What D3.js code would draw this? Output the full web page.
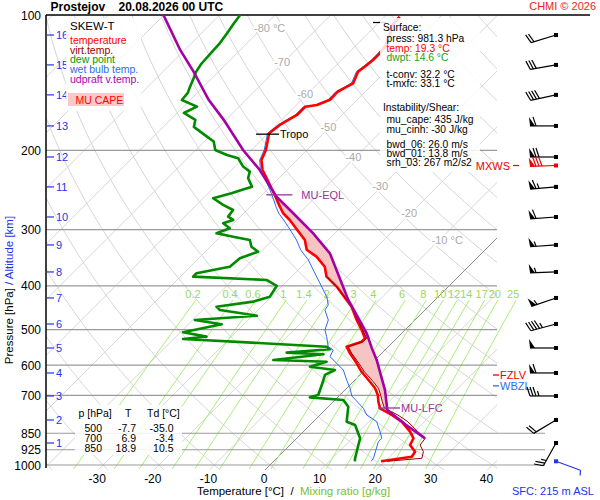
<!DOCTYPE html>
<html>
<head>
<meta charset="utf-8">
<script src="https://cdnjs.cloudflare.com/ajax/libs/d3/7.8.5/d3.min.js"></script>
<style>
  body { margin: 0; background: #fff; }
  svg { font-family: "Liberation Sans", Arial, sans-serif; }
</style>
</head>
<body>
<div id="chart"></div>
<script>
var pressureTicks = [100, 200, 300, 400, 500, 600, 700, 850, 925, 1000];
var tempTicks = [-30, -20, -10, 0, 10, 20, 30, 40];

var altitudeKm = [1, 2, 3, 4, 5, 6, 7, 8, 9, 10, 11, 12, 13, 14, 15, 16];
var altitudeP = [893.5, 794.3, 702.4, 624.4, 549.5, 486.0, 425.4, 372.4, 324.3, 281.1, 241.0, 206.8, 176.4, 150.5, 129.1, 110.8];

var isoLabelT = [-80, -70, -60, -50, -40, -30, -20, -10];
var isoLabelP = [107, 127, 150, 177, 207, 240, 275, 316];

var mixRatios = [0.2, 0.4, 0.6, 1, 1.4, 2, 3, 4, 6, 8, 10, 12, 14, 17, 20, 25];

// [pressure hPa, value °C], surface upward
var temperature = [
  [981.3, 19.3], [958.4, 24.0], [934.2, 23.7], [902.7, 21.6], [872.2, 21.0], [843.3, 19.2],
  [801.2, 15.9], [774.2, 12.9], [748.2, 9.6], [723.2, 8.1], [698.9, 6.8], [675.2, 5.1],
  [653.0, 3.0], [620.5, -0.3], [594.3, -2.7], [564.6, -5.7], [545.8, -7.5], [532.0, -5.7],
  [523.0, -5.7], [501.0, -7.8], [476.0, -10.5], [444.8, -13.8], [430.0, -15.9], [401.3, -20.1],
  [381.5, -23.7], [362.7, -25.8], [344.4, -29.1], [332.5, -32.1], [316.2, -34.2], [295.4, -38.4],
  [285.5, -40.5], [275.8, -42.9], [266.6, -44.7], [251.2, -47.7], [242.7, -49.5], [232.6, -51.7],
  [221.0, -54.4], [210.0, -56.4], [199.5, -57.4], [191.2, -58.6], [183.2, -59.8], [175.5, -59.4],
  [166.8, -58.1], [159.9, -58.1], [158.5, -56.3], [154.3, -54.9], [148.3, -55.0], [144.3, -54.2],
  [141.8, -53.7], [133.6, -54.9], [130.3, -54.6], [125.9, -54.3], [121.8, -54.3], [116.7, -54.6],
  [105.2, -57.0], [100.9, -57.3]
];

var virtualTemp = [
  [981.3, 20.4], [966.3, 26.1], [934.2, 25.2], [902.7, 23.4], [872.2, 23.1], [843.3, 20.6],
  [801.2, 17.0], [774.2, 14.0], [748.2, 10.4], [723.2, 8.8], [698.9, 7.3], [675.2, 5.7],
  [653.0, 3.6], [620.5, 0.2], [594.3, -2.3], [564.6, -5.4], [545.8, -7.2], [532.0, -5.4],
  [523.0, -5.4], [501.0, -7.6], [476.0, -10.3], [444.8, -13.7], [430.0, -15.8], [401.3, -20.1],
  [381.5, -23.7]
];

var dewPoint = [
  [981.3, 14.6], [966.3, 14.1], [902.7, 12.3], [872.2, 11.4], [814.8, 8.1], [801.2, 6.0],
  [742.2, 3.6], [717.0, 1.5], [707.4, -5.0], [698.9, -3.9], [660.6, -5.2], [630.8, -6.3],
  [615.0, -5.4], [604.7, -10.5], [589.4, -8.4], [584.4, -18.3], [567.4, -10.3], [562.8, -17.2],
  [553.2, -10.0], [545.9, -11.1], [524.7, -38.3], [518.5, -34.5], [507.1, -39.5], [486.7, -34.0],
  [476.1, -39.6], [465.8, -29.2], [452.4, -36.9], [444.8, -38.1], [433.5, -32.4], [422.6, -30.3],
  [400.0, -31.0], [388.0, -33.9], [381.5, -47.7], [374.9, -47.7], [362.5, -42.9], [347.2, -42.6],
  [335.7, -40.5], [327.3, -42.6], [316.2, -44.1], [310.9, -47.7], [305.5, -51.3], [297.9, -49.8],
  [290.3, -51.9], [285.4, -50.7], [280.6, -52.2], [271.2, -52.5], [264.3, -55.2], [255.4, -58.2],
  [249.0, -55.8], [244.8, -54.6], [240.7, -53.3], [230.6, -55.5], [222.9, -56.4], [217.2, -58.5],
  [208.1, -60.9], [204.7, -63.5], [199.5, -66.5], [191.1, -68.3], [186.3, -70.4], [177.3, -74.5],
  [171.0, -75.5], [165.1, -78.8], [159.8, -77.6], [154.5, -81.5], [149.0, -81.7], [144.5, -82.4],
  [138.8, -83.2], [133.8, -84.0], [128.5, -84.5], [122.0, -84.7], [115.3, -84.9], [109.6, -85.4],
  [104.7, -85.9], [100.0, -86.3]
];

var wetBulb = [
  [981.3, 17.5], [966.3, 17.4], [887.6, 15.3], [872.2, 15.3], [843.3, 13.8], [801.2, 11.4],
  [774.2, 8.4], [748.2, 6.6], [702.4, 2.3], [675.3, 0.6], [647.3, -1.5], [615.0, -3.9],
  [594.3, -6.3], [574.4, -8.7], [555.3, -9.3], [545.9, -10.8], [518.5, -12.9], [501.1, -14.4],
  [476.1, -15.6], [452.4, -18.0], [441.0, -18.3], [423.2, -20.0], [382.1, -25.4], [350.1, -30.0],
  [332.5, -33.2], [316.2, -35.7], [295.4, -39.6], [285.5, -41.6], [275.8, -43.7], [266.6, -45.4],
  [257.6, -47.0], [251.2, -48.2], [242.7, -49.9], [232.6, -52.1], [221.0, -54.8], [210.0, -56.7],
  [199.5, -57.7], [191.2, -58.9], [183.2, -60.1], [175.5, -59.7], [166.8, -58.4], [159.9, -58.4],
  [158.5, -56.6], [154.3, -55.2], [148.3, -55.3], [144.3, -54.5], [141.8, -54.0], [133.6, -55.2],
  [130.3, -54.9], [125.9, -54.6], [121.8, -54.6], [116.7, -54.9], [105.2, -57.3], [100.9, -57.6]
];

var parcel = [
  [872.6, 23.1], [815.0, 17.3], [754.5, 11.2], [681.5, 7.2], [584.3, 0.3], [550.0, -2.7],
  [509.7, -6.3], [429.8, -15.6], [338.5, -27.3], [305.6, -33.9], [275.8, -41.1], [253.3, -47.1],
  [221.0, -54.9], [199.5, -61.5], [171.0, -70.4], [154.4, -76.7], [133.6, -84.5], [119.6, -90.8],
  [107.8, -96.2], [100.0, -100.1]
];

// winds at the altitude levels (deg, kt)
var windDir = [209, 239, 270, 270, 270, 255, 251, 268, 266, 266, 265, 270, 270, 258, 260, 253];
var windSpeed = [25, 20, 35, 60, 50, 45, 55, 55, 55, 60, 65, 70, 60, 40, 30, 20];
var maxWindP = 216, maxWindDir = 268, maxWindSpeed = 80;
var sfcWindP = 981.3, sfcWindDir = 110, sfcWindSpeed = 5;

var levelNames = ["MU-LFC", "MU-EQL", "Tropo", "FZLV", "WBZL"];
var levelP = [747, 251, 184, 631, 667];

var tableP = [500, 700, 850];
var tableT = [-7.7, 6.9, 18.9];
var tableTd = [-35.0, -3.4, 10.5];

var infoLines = ["Surface:", "press: 981.3 hPa", "temp: 19.3 \u00b0C", "dwpt: 14.6 \u00b0C",
  "t-conv: 32.2 \u00b0C", "t-mxfc: 33.1 \u00b0C", "Instability/Shear:", "mu_cape: 435 J/kg",
  "mu_cinh: -30 J/kg", "bwd_06: 26.0 m/s", "bwd_01: 13.8 m/s", "srh_03: 267 m2/s2"];

var legendNames = ["temperature", "virt.temp.", "dew point", "wet bulb temp.", "udpraft v.temp."];


function init() {

  var w = 600;
  var h = 500;
  var left = 46, right = 497, top = 15, bottom = 465;

  var yScale = d3.scaleLog().domain([1000, 100]).range([bottom, top]);
  var tScale = d3.scaleLinear().domain([0, 10]).range([270, 325.6]);

  // skewed x position of temperature T at pressure p
  function sx(T, p) { return tScale(T) + (bottom - yScale(p)); }

  function interp(prof, p) {
    for (var i = 0; i < prof.length - 1; i++) {
      var a = prof[i], b = prof[i + 1];
      if (p <= a[0] && p >= b[0]) {
        var f = Math.log(a[0] / p) / Math.log(a[0] / b[0]);
        return a[1] + f * (b[1] - a[1]);
      }
    }
    return null;
  }

  function tdew(wr, p) {
    var e = wr * p / (622 + wr);
    var l = Math.log(e / 6.112);
    return 243.5 * l / (17.67 - l);
  }

  var svg = d3.select("#chart")
              .append("svg")
              .attr("width", w)
              .attr("height", h);

  svg.append("rect").attr("width", w).attr("height", h).attr("fill", "#fff");

  var defs = svg.append("defs");
  defs.append("clipPath").attr("id", "gridclip")
      .append("rect").attr("x", left).attr("y", top).attr("width", right - left).attr("height", 455);
  defs.append("clipPath").attr("id", "plotclip")
      .append("rect").attr("x", left).attr("y", top).attr("width", right - left + 3).attr("height", bottom - top);

  var grid = svg.append("g").attr("clip-path", "url(#gridclip)");

  // isotherms
  d3.range(-160, 60, 10).forEach(function(T) {
    grid.append("line")
        .attr("x1", sx(T, 1030)).attr("y1", yScale(1030))
        .attr("x2", sx(T, 100)).attr("y2", yScale(100))
        .attr("stroke", "#d6d6d6").attr("stroke-width", 1);
  });

  // dry adiabats
  var adiabat = d3.line()
      .x(function(d) { return sx(d[1], d[0]); })
      .y(function(d) { return yScale(d[0]); });
  d3.range(-40, 260, 10).forEach(function(theta) {
    var pts = d3.range(1030, 99, -10).map(function(p) {
      return [p, (theta + 273.15) * Math.pow(p / 1000, 0.2857) - 273.15];
    });
    grid.append("path").datum(pts)
        .attr("d", adiabat)
        .attr("fill", "none")
        .attr("stroke", "#d6d6d6").attr("stroke-width", 1);
  });

  // 0 °C isotherm
  grid.append("line")
      .attr("x1", sx(0, 1030)).attr("y1", yScale(1030))
      .attr("x2", sx(0, 300)).attr("y2", yScale(300))
      .attr("stroke", "#777").attr("stroke-width", 0.8);

  // mixing ratio lines
  var mixG = svg.append("g");
  mixRatios.forEach(function(wr) {
    var pts = d3.range(1020, 429, -30).concat([430]).map(function(p) { return [p, tdew(wr, p)]; });
    mixG.append("path").datum(pts)
        .attr("d", adiabat)
        .attr("fill", "none")
        .attr("stroke", "#a8ee78").attr("stroke-width", 1);
    mixG.append("text")
        .attr("x", sx(tdew(wr, 430), 430) - 3)
        .attr("y", 298)
        .attr("text-anchor", "middle")
        .attr("font-size", 11)
        .attr("fill", "#9ad85a")
        .text(wr);
  });

  // isotherm labels
  isoLabelT.forEach(function(T, i) {
    var p = isoLabelP[i];
    var first = (i == 0 || i == isoLabelT.length - 1);
    svg.append("text")
       .attr("x", first ? sx(T, p) - 8 : sx(T, p) - 2)
       .attr("y", yScale(p) + 4)
       .attr("text-anchor", first ? "start" : "middle")
       .attr("font-size", 11)
       .attr("fill", "#aaa")
       .attr("stroke", "#fff").attr("stroke-width", 4).attr("paint-order", "stroke")
       .text(first ? T + " \u00b0C" : T);
  });

  // isobars
  pressureTicks.forEach(function(p) {
    var y = yScale(p);
    svg.append("line")
       .attr("x1", left).attr("y1", y)
       .attr("x2", p == 100 ? 590 : (p >= 850 ? 545 : right)).attr("y2", y)
       .attr("stroke", p == 100 ? "#000" : "#9a9a9a")
       .attr("stroke-width", p == 100 ? 1.5 : 1.2);
    svg.append("text")
       .attr("x", 41).attr("y", y + 4.5)
       .attr("text-anchor", "end")
       .attr("font-size", 12)
       .text(p);
  });

  // left axis
  svg.append("line")
     .attr("x1", left).attr("y1", top).attr("x2", left).attr("y2", 468)
     .attr("stroke", "#000").attr("stroke-width", 1.5);

  // altitude ticks
  altitudeKm.forEach(function(km, i) {
    var y = yScale(altitudeP[i]);
    svg.append("line")
       .attr("x1", 47).attr("y1", y).attr("x2", 54).attr("y2", y)
       .attr("stroke", "#2233ee").attr("stroke-width", 1.2);
    svg.append("text")
       .attr("x", 56).attr("y", y + 4)
       .attr("font-size", 11)
       .attr("fill", "#2233ee")
       .text(km);
  });

  // temperature tick labels
  tempTicks.forEach(function(T) {
    svg.append("text")
       .attr("x", tScale(T) - 6).attr("y", 483)
       .attr("text-anchor", "middle")
       .attr("font-size", 12)
       .text(T);
  });

  // ---- profiles ----
  var prof = svg.append("g").attr("clip-path", "url(#plotclip)");

  var line = d3.line()
      .x(function(d) { return sx(d[1], d[0]); })
      .y(function(d) { return yScale(d[0]); });

  // MU CAPE shading between parcel and environment
  var capeData = d3.range(0, 401).map(function(i) {
    var p = levelP[0] * Math.pow(levelP[1] / levelP[0], i / 400);
    var env = p >= 381.5 ? interp(virtualTemp, p) : interp(temperature, p);
    var par = interp(parcel, p);
    return { p: p, env: env, par: Math.max(par, env) };
  });
  var area = d3.area()
      .y(function(d) { return yScale(d.p); })
      .x0(function(d) { return sx(d.env, d.p); })
      .x1(function(d) { return sx(d.par, d.p); });
  prof.append("path").datum(capeData)
      .attr("d", area)
      .attr("fill", "#f7c4c4");

  prof.append("path").datum(dewPoint)
      .attr("d", line).attr("fill", "none")
      .attr("stroke", "#008a00").attr("stroke-width", 2.6).attr("stroke-linejoin", "round");

  prof.append("path").datum(wetBulb)
      .attr("d", line).attr("fill", "none")
      .attr("stroke", "#2a6cf0").attr("stroke-width", 1);

  prof.append("path").datum(temperature)
      .attr("d", line).attr("fill", "none")
      .attr("stroke", "#ff0000").attr("stroke-width", 2.6).attr("stroke-linejoin", "round");

  prof.append("path").datum(virtualTemp)
      .attr("d", line).attr("fill", "none")
      .attr("stroke", "#990000").attr("stroke-width", 1);

  prof.append("path").datum(parcel)
      .attr("d", line).attr("fill", "none")
      .attr("stroke", "#a400a4").attr("stroke-width", 2.6);

  // level markers
  var lfcX = sx(interp(parcel, levelP[0]), levelP[0]);
  var eqlX = sx(interp(parcel, levelP[1]), levelP[1]);
  var tropX = sx(interp(temperature, levelP[2]), levelP[2]);

  function marker(x1, x2, p, color, label, tx, size) {
    var y = yScale(p);
    svg.append("line")
       .attr("x1", x1).attr("y1", y).attr("x2", x2).attr("y2", y)
       .attr("stroke", color).attr("stroke-width", 1.3);
    svg.append("text")
       .attr("x", tx).attr("y", y + 4)
       .attr("font-size", size)
       .attr("fill", color)
       .text(label);
  }
  marker(lfcX - 9, lfcX + 13, levelP[0], "#993399", levelNames[0], lfcX + 14, 11);
  marker(eqlX - 9, eqlX + 17, levelP[1], "#993399", levelNames[1], eqlX + 26, 11);
  marker(tropX - 13, tropX + 10, levelP[2], "#000", levelNames[2], tropX + 11, 11);
  marker(493, 499, levelP[3], "#ee0000", levelNames[3], 500, 11);
  marker(493, 499, levelP[4], "#2a6cf0", levelNames[4], 500, 11);

  svg.append("line")
     .attr("x1", 373).attr("y1", 22.5).attr("x2", 386).attr("y2", 22.5)
     .attr("stroke", "#000").attr("stroke-width", 1.2);

  // ---- wind barbs ----
  var barbX = 556;
  function barb(y, dir, spd, color) {
    var g = svg.append("g");
    var rad = dir * Math.PI / 180;
    var u = [Math.sin(rad), -Math.cos(rad)];
    var n = [-u[1], u[0]];
    var L = 26;
    var ex = barbX + u[0] * L, ey = y + u[1] * L;
    g.append("line")
     .attr("x1", barbX).attr("y1", y).attr("x2", ex).attr("y2", ey)
     .attr("stroke", color).attr("stroke-width", 1.2);
    g.append("rect")
     .attr("x", barbX - 2).attr("y", y - 2).attr("width", 4).attr("height", 4)
     .attr("fill", color);
    var s = Math.round(spd / 5) * 5;
    var pos = 0;
    while (s >= 50) {
      var bx = ex - u[0] * pos, by = ey - u[1] * pos;
      g.append("polygon")
       .attr("points", [[bx, by], [bx + n[0] * 9 + u[0], by + n[1] * 9 + u[1]], [bx - u[0] * 5, by - u[1] * 5]].join(" "))
       .attr("fill", color);
      pos += 6;
      s -= 50;
    }
    while (s >= 10) {
      var cx = ex - u[0] * pos, cy = ey - u[1] * pos;
      g.append("line")
       .attr("x1", cx).attr("y1", cy)
       .attr("x2", cx + n[0] * 9 + u[0] * 3).attr("y2", cy + n[1] * 9 + u[1] * 3)
       .attr("stroke", color).attr("stroke-width", 1.2);
      pos += 3;
      s -= 10;
    }
    if (s >= 5) {
      var hx = ex - u[0] * pos, hy = ey - u[1] * pos;
      g.append("line")
       .attr("x1", hx).attr("y1", hy)
       .attr("x2", hx + n[0] * 5 + u[0] * 1.5).attr("y2", hy + n[1] * 5 + u[1] * 1.5)
       .attr("stroke", color).attr("stroke-width", 1.2);
    }
  }

  altitudeP.forEach(function(p, i) {
    barb(yScale(p), windDir[i], windSpeed[i], "#000");
  });
  barb(yScale(maxWindP), maxWindDir, maxWindSpeed, "#ee0000");
  barb(yScale(sfcWindP), sfcWindDir, sfcWindSpeed, "#2233ee");

  // ---- legend box ----
  svg.append("rect")
     .attr("x", 66).attr("y", 18).attr("width", 75).attr("height", 93)
     .attr("fill", "#fff").attr("opacity", 0.85);
  svg.append("text").attr("x", 70).attr("y", 30).attr("font-size", 11.5).text("SKEW-T");
  var legendColors = ["#ff0000", "#990000", "#009900", "#2a6cf0", "#b000b0"];
  legendNames.forEach(function(name, i) {
    svg.append("text")
       .attr("x", 70).attr("y", 44 + i * 9.7)
       .attr("font-size", 10.5)
       .attr("fill", legendColors[i])
       .text(name);
  });
  svg.append("rect")
     .attr("x", 68).attr("y", 93).attr("width", 56).attr("height", 13)
     .attr("fill", "#ffc8c8");
  svg.append("text").attr("x", 75.5).attr("y", 104).attr("font-size", 10.5)
     .attr("fill", "#ff0000").text("MU CAPE");

  // ---- info box ----
  svg.append("rect")
     .attr("x", 380).attr("y", 18).attr("width", 100).attr("height", 154)
     .attr("fill", "#fff").attr("opacity", 0.85);
  var infoY = [31, 42, 51.5, 61, 77.5, 87, 110.5, 122.5, 132.5, 147.5, 157, 166];
  var infoColor = ["#000", "#000", "#ff0000", "#22a022", "#000", "#000", "#000", "#000", "#000", "#000", "#000", "#000"];
  infoLines.forEach(function(t, i) {
    svg.append("text")
       .attr("x", (i == 0 || i == 6) ? 383 : 386.5)
       .attr("y", infoY[i])
       .attr("font-size", 10.3)
       .attr("fill", infoColor[i])
       .text(t);
  });

  // max wind label, drawn over the info box edge
  svg.append("text")
     .attr("x", 510).attr("y", yScale(maxWindP) + 4)
     .attr("text-anchor", "end")
     .attr("font-size", 11)
     .attr("fill", "#ee0000")
     .text("MXWS");
  svg.append("line")
     .attr("x1", 513).attr("y1", yScale(maxWindP)).attr("x2", 519).attr("y2", yScale(maxWindP))
     .attr("stroke", "#ee0000").attr("stroke-width", 1.2);

  // ---- table ----
  svg.append("rect")
     .attr("x", 75).attr("y", 405).attr("width", 107).attr("height", 50)
     .attr("fill", "#fff").attr("opacity", 0.85);
  var tbl = svg.append("g").attr("font-size", 10.5);
  tbl.append("text").attr("x", 78.5).attr("y", 417).text("p [hPa]");
  tbl.append("text").attr("x", 125).attr("y", 417).text("T");
  tbl.append("text").attr("x", 147).attr("y", 417).text("Td [\u00b0C]");
  tableP.forEach(function(p, i) {
    var y = 432 + i * 10;
    tbl.append("text").attr("x", 84.5).attr("y", y).text(p);
    tbl.append("text").attr("x", 136).attr("y", y).attr("text-anchor", "end").text(tableT[i].toFixed(1));
    tbl.append("text").attr("x", 173.5).attr("y", y).attr("text-anchor", "end").text(tableTd[i].toFixed(1));
  });

  // ---- titles ----
  svg.append("text")
     .attr("x", 50.5).attr("y", 11)
     .attr("font-size", 12).attr("font-weight", "bold")
     .attr("xml:space", "preserve")
     .text("Prostejov    20.08.2026 00 UTC");
  svg.append("text")
     .attr("x", 596).attr("y", 10)
     .attr("text-anchor", "end")
     .attr("font-size", 11)
     .attr("fill", "#ee2222")
     .text("CHMI \u00a9 2026");

  var xl = svg.append("text")
     .attr("x", 197).attr("y", 495)
     .attr("font-size", 11.5)
     .attr("xml:space", "preserve");
  xl.append("tspan").text("Temperature [\u00b0C]  /  ");
  xl.append("tspan").attr("fill", "#77c03a").text("Mixing ratio [g/kg]");

  var yl = svg.append("text")
     .attr("transform", "translate(13,290) rotate(-90)")
     .attr("text-anchor", "middle")
     .attr("font-size", 11.5);
  yl.append("tspan").text("Pressure [hPa] ");
  yl.append("tspan").attr("fill", "#2233ee").text("/ Altitude [km]");

  svg.append("text")
     .attr("x", 512).attr("y", 495)
     .attr("font-size", 11)
     .attr("fill", "#2233ee")
     .text("SFC: 215 m ASL");
}

window.onload = init;
</script>
</body>
</html>
